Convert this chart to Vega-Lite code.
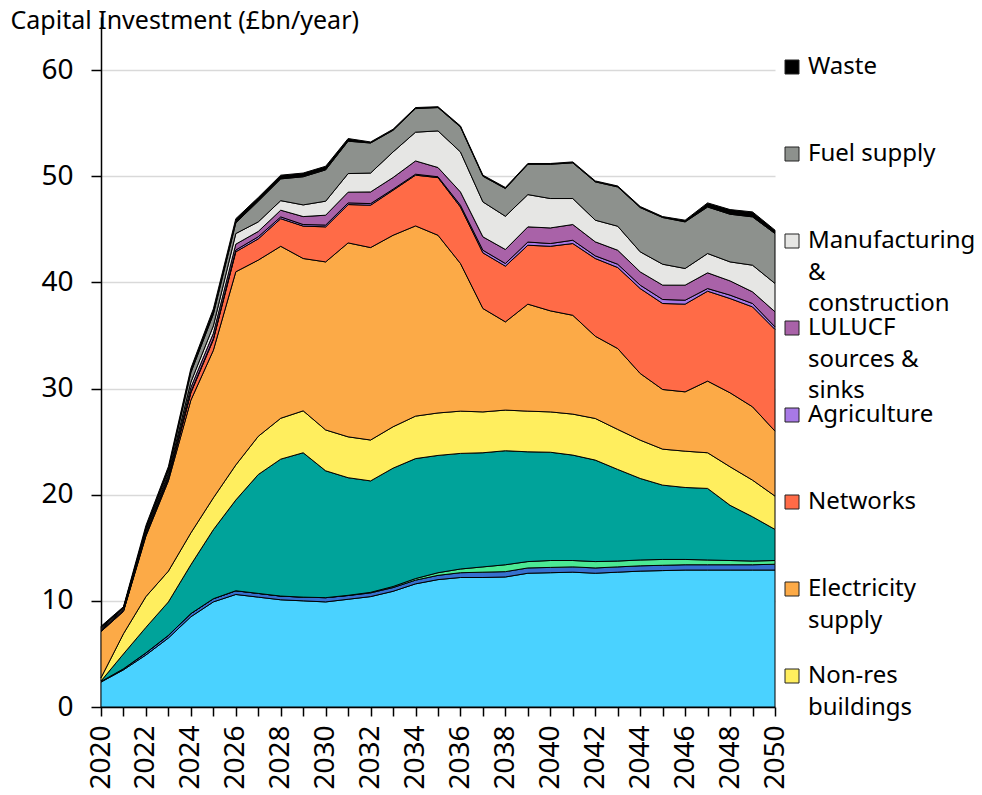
{
  "$schema": "https://vega.github.io/schema/vega-lite/v6.json",
  "autosize": {"type": "none"},
  "padding": {"left": 101, "top": 17, "right": 207, "bottom": 88},
  "width": 674,
  "height": 690,
  "background": "white",
  "config": {
    "font": "Noto Sans",
    "view": {"stroke": null}
  },
  "datasets": {
    "sectorOrder": [
      {"sector": "Surface transport", "rank": 1},
      {"sector": "Shipping", "rank": 2},
      {"sector": "Removals", "rank": 3},
      {"sector": "Residential buildings", "rank": 4},
      {"sector": "Non-res buildings", "rank": 5},
      {"sector": "Electricity supply", "rank": 6},
      {"sector": "Networks", "rank": 7},
      {"sector": "Agriculture", "rank": 8},
      {"sector": "LULUCF sources & sinks", "rank": 9},
      {"sector": "Manufacturing & construction", "rank": 10},
      {"sector": "Fuel supply", "rank": 11},
      {"sector": "Waste", "rank": 12}
    ]
  },
  "data": {
    "values": [
      {"year": 2020, "Surface transport": 2.35, "Shipping": 0.05, "Removals": 0, "Residential buildings": 0.05, "Non-res buildings": 0.3, "Electricity supply": 4.35, "Networks": 0.05, "Agriculture": 0.05, "LULUCF sources & sinks": 0.1, "Manufacturing & construction": 0.1, "Fuel supply": 0.1, "Waste": 0.1},
      {"year": 2021, "Surface transport": 3.5, "Shipping": 0.1, "Removals": 0, "Residential buildings": 1.4, "Non-res buildings": 1.9, "Electricity supply": 2.1, "Networks": 0.05, "Agriculture": 0.05, "LULUCF sources & sinks": 0.1, "Manufacturing & construction": 0.1, "Fuel supply": 0.05, "Waste": 0.1},
      {"year": 2022, "Surface transport": 4.9, "Shipping": 0.2, "Removals": 0, "Residential buildings": 2.4, "Non-res buildings": 2.9, "Electricity supply": 5.7, "Networks": 0.15, "Agriculture": 0.05, "LULUCF sources & sinks": 0.15, "Manufacturing & construction": 0.15, "Fuel supply": 0.2, "Waste": 0.3},
      {"year": 2023, "Surface transport": 6.5, "Shipping": 0.25, "Removals": 0, "Residential buildings": 3.15, "Non-res buildings": 2.9, "Electricity supply": 8.5, "Networks": 0.2, "Agriculture": 0.1, "LULUCF sources & sinks": 0.2, "Manufacturing & construction": 0.2, "Fuel supply": 0.3, "Waste": 0.35},
      {"year": 2024, "Surface transport": 8.5, "Shipping": 0.3, "Removals": 0, "Residential buildings": 4.6, "Non-res buildings": 3.0, "Electricity supply": 12.5, "Networks": 0.7, "Agriculture": 0.1, "LULUCF sources & sinks": 0.4, "Manufacturing & construction": 0.5, "Fuel supply": 0.9, "Waste": 0.4},
      {"year": 2025, "Surface transport": 9.9, "Shipping": 0.3, "Removals": 0, "Residential buildings": 6.5, "Non-res buildings": 3.0, "Electricity supply": 13.9, "Networks": 1.0, "Agriculture": 0.1, "LULUCF sources & sinks": 0.5, "Manufacturing & construction": 0.7, "Fuel supply": 1.1, "Waste": 0.5},
      {"year": 2026, "Surface transport": 10.6, "Shipping": 0.35, "Removals": 0, "Residential buildings": 8.55, "Non-res buildings": 3.3, "Electricity supply": 18.2, "Networks": 1.88, "Agriculture": 0.17, "LULUCF sources & sinks": 0.55, "Manufacturing & construction": 1.0, "Fuel supply": 1.0, "Waste": 0.4},
      {"year": 2027, "Surface transport": 10.35, "Shipping": 0.35, "Removals": 0, "Residential buildings": 11.2, "Non-res buildings": 3.6, "Electricity supply": 16.6, "Networks": 2.0, "Agriculture": 0.2, "LULUCF sources & sinks": 0.5, "Manufacturing & construction": 0.9, "Fuel supply": 1.95, "Waste": 0.35},
      {"year": 2028, "Surface transport": 10.1, "Shipping": 0.35, "Removals": 0, "Residential buildings": 12.9, "Non-res buildings": 3.85, "Electricity supply": 16.2, "Networks": 2.6, "Agriculture": 0.17, "LULUCF sources & sinks": 0.63, "Manufacturing & construction": 0.9, "Fuel supply": 2.05, "Waste": 0.35},
      {"year": 2029, "Surface transport": 10.0, "Shipping": 0.35, "Removals": 0, "Residential buildings": 13.6, "Non-res buildings": 3.95, "Electricity supply": 14.35, "Networks": 3.05, "Agriculture": 0.15, "LULUCF sources & sinks": 0.75, "Manufacturing & construction": 1.1, "Fuel supply": 2.65, "Waste": 0.35},
      {"year": 2030, "Surface transport": 9.9, "Shipping": 0.4, "Removals": 0, "Residential buildings": 11.95, "Non-res buildings": 3.85, "Electricity supply": 15.83, "Networks": 3.3, "Agriculture": 0.17, "LULUCF sources & sinks": 0.93, "Manufacturing & construction": 1.32, "Fuel supply": 2.95, "Waste": 0.34},
      {"year": 2031, "Surface transport": 10.15, "Shipping": 0.35, "Removals": 0.02, "Residential buildings": 11.08, "Non-res buildings": 3.85, "Electricity supply": 18.27, "Networks": 3.61, "Agriculture": 0.16, "LULUCF sources & sinks": 1.01, "Manufacturing & construction": 1.75, "Fuel supply": 3.05, "Waste": 0.25},
      {"year": 2032, "Surface transport": 10.4, "Shipping": 0.35, "Removals": 0.05, "Residential buildings": 10.5, "Non-res buildings": 3.85, "Electricity supply": 18.13, "Networks": 3.99, "Agriculture": 0.15, "LULUCF sources & sinks": 1.1, "Manufacturing & construction": 1.78, "Fuel supply": 2.83, "Waste": 0.1},
      {"year": 2033, "Surface transport": 10.9, "Shipping": 0.35, "Removals": 0.1, "Residential buildings": 11.15, "Non-res buildings": 3.9, "Electricity supply": 18.04, "Networks": 4.24, "Agriculture": 0.1, "LULUCF sources & sinks": 1.1, "Manufacturing & construction": 2.41, "Fuel supply": 2.04, "Waste": 0.1},
      {"year": 2034, "Surface transport": 11.6, "Shipping": 0.35, "Removals": 0.15, "Residential buildings": 11.3, "Non-res buildings": 4.0, "Electricity supply": 17.92, "Networks": 4.78, "Agriculture": 0.09, "LULUCF sources & sinks": 1.25, "Manufacturing & construction": 2.71, "Fuel supply": 2.22, "Waste": 0.1},
      {"year": 2035, "Surface transport": 12.0, "Shipping": 0.4, "Removals": 0.25, "Residential buildings": 11.05, "Non-res buildings": 4.0, "Electricity supply": 16.74, "Networks": 5.43, "Agriculture": 0.08, "LULUCF sources & sinks": 0.87, "Manufacturing & construction": 3.45, "Fuel supply": 2.2, "Waste": 0.08},
      {"year": 2036, "Surface transport": 12.2, "Shipping": 0.45, "Removals": 0.35, "Residential buildings": 10.89, "Non-res buildings": 3.98, "Electricity supply": 13.91, "Networks": 5.32, "Agriculture": 0.17, "LULUCF sources & sinks": 1.25, "Manufacturing & construction": 3.77, "Fuel supply": 2.35, "Waste": 0.1},
      {"year": 2037, "Surface transport": 12.2, "Shipping": 0.5, "Removals": 0.5, "Residential buildings": 10.75, "Non-res buildings": 3.85, "Electricity supply": 9.74, "Networks": 5.24, "Agriculture": 0.25, "LULUCF sources & sinks": 1.26, "Manufacturing & construction": 3.29, "Fuel supply": 2.42, "Waste": 0.1},
      {"year": 2038, "Surface transport": 12.25, "Shipping": 0.5, "Removals": 0.65, "Residential buildings": 10.74, "Non-res buildings": 3.83, "Electricity supply": 8.31, "Networks": 5.25, "Agriculture": 0.25, "LULUCF sources & sinks": 1.32, "Manufacturing & construction": 3.13, "Fuel supply": 2.61, "Waste": 0.1},
      {"year": 2039, "Surface transport": 12.6, "Shipping": 0.5, "Removals": 0.6, "Residential buildings": 10.34, "Non-res buildings": 3.83, "Electricity supply": 10.08, "Networks": 5.55, "Agriculture": 0.3, "LULUCF sources & sinks": 1.43, "Manufacturing & construction": 3.04, "Fuel supply": 2.86, "Waste": 0.07},
      {"year": 2040, "Surface transport": 12.65, "Shipping": 0.5, "Removals": 0.65, "Residential buildings": 10.2, "Non-res buildings": 3.8, "Electricity supply": 9.52, "Networks": 6.08, "Agriculture": 0.26, "LULUCF sources & sinks": 1.47, "Manufacturing & construction": 2.77, "Fuel supply": 3.23, "Waste": 0.07},
      {"year": 2041, "Surface transport": 12.7, "Shipping": 0.5, "Removals": 0.6, "Residential buildings": 9.93, "Non-res buildings": 3.86, "Electricity supply": 9.31, "Networks": 6.76, "Agriculture": 0.31, "LULUCF sources & sinks": 1.48, "Manufacturing & construction": 2.45, "Fuel supply": 3.36, "Waste": 0.09},
      {"year": 2042, "Surface transport": 12.6, "Shipping": 0.5, "Removals": 0.6, "Residential buildings": 9.56, "Non-res buildings": 3.92, "Electricity supply": 7.75, "Networks": 7.32, "Agriculture": 0.25, "LULUCF sources & sinks": 1.32, "Manufacturing & construction": 2.04, "Fuel supply": 3.61, "Waste": 0.09},
      {"year": 2043, "Surface transport": 12.7, "Shipping": 0.5, "Removals": 0.55, "Residential buildings": 8.63, "Non-res buildings": 3.77, "Electricity supply": 7.62, "Networks": 7.63, "Agriculture": 0.31, "LULUCF sources & sinks": 1.32, "Manufacturing & construction": 2.26, "Fuel supply": 3.7, "Waste": 0.09},
      {"year": 2044, "Surface transport": 12.8, "Shipping": 0.5, "Removals": 0.55, "Residential buildings": 7.68, "Non-res buildings": 3.61, "Electricity supply": 6.28, "Networks": 8.0, "Agriculture": 0.32, "LULUCF sources & sinks": 1.25, "Manufacturing & construction": 1.89, "Fuel supply": 4.17, "Waste": 0.1},
      {"year": 2045, "Surface transport": 12.85, "Shipping": 0.5, "Removals": 0.55, "Residential buildings": 7.0, "Non-res buildings": 3.39, "Electricity supply": 5.62, "Networks": 8.1, "Agriculture": 0.38, "LULUCF sources & sinks": 1.35, "Manufacturing & construction": 1.97, "Fuel supply": 4.4, "Waste": 0.09},
      {"year": 2046, "Surface transport": 12.9, "Shipping": 0.5, "Removals": 0.5, "Residential buildings": 6.78, "Non-res buildings": 3.42, "Electricity supply": 5.59, "Networks": 8.26, "Agriculture": 0.37, "LULUCF sources & sinks": 1.42, "Manufacturing & construction": 1.57, "Fuel supply": 4.39, "Waste": 0.16},
      {"year": 2047, "Surface transport": 12.9, "Shipping": 0.5, "Removals": 0.45, "Residential buildings": 6.74, "Non-res buildings": 3.36, "Electricity supply": 6.75, "Networks": 8.47, "Agriculture": 0.25, "LULUCF sources & sinks": 1.48, "Manufacturing & construction": 1.82, "Fuel supply": 4.38, "Waste": 0.39},
      {"year": 2048, "Surface transport": 12.9, "Shipping": 0.5, "Removals": 0.4, "Residential buildings": 5.2, "Non-res buildings": 3.63, "Electricity supply": 6.97, "Networks": 8.88, "Agriculture": 0.32, "LULUCF sources & sinks": 1.34, "Manufacturing & construction": 1.79, "Fuel supply": 4.49, "Waste": 0.44},
      {"year": 2049, "Surface transport": 12.9, "Shipping": 0.5, "Removals": 0.35, "Residential buildings": 4.17, "Non-res buildings": 3.45, "Electricity supply": 6.91, "Networks": 9.41, "Agriculture": 0.32, "LULUCF sources & sinks": 1.1, "Manufacturing & construction": 2.51, "Fuel supply": 4.55, "Waste": 0.47},
      {"year": 2050, "Surface transport": 12.9, "Shipping": 0.55, "Removals": 0.35, "Residential buildings": 2.93, "Non-res buildings": 3.14, "Electricity supply": 6.12, "Networks": 9.58, "Agriculture": 0.24, "LULUCF sources & sinks": 1.42, "Manufacturing & construction": 2.67, "Fuel supply": 4.7, "Waste": 0.32}
    ]
  },
  "transform": [
    {"fold": ["Surface transport", "Shipping", "Removals", "Residential buildings", "Non-res buildings", "Electricity supply", "Networks", "Agriculture", "LULUCF sources & sinks", "Manufacturing & construction", "Fuel supply", "Waste"], "as": ["sector", "value"]},
    {"lookup": "sector", "from": {"data": {"name": "sectorOrder"}, "key": "sector", "fields": ["rank"]}}
  ],
  "mark": {"type": "area", "stroke": "black", "strokeWidth": 1, "opacity": 1, "fillOpacity": 1, "interpolate": "linear"},
  "encoding": {
    "x": {
      "field": "year",
      "type": "quantitative",
      "scale": {"domain": [2020, 2050], "nice": false, "zero": false},
      "axis": {
        "title": null,
        "values": [2020, 2021, 2022, 2023, 2024, 2025, 2026, 2027, 2028, 2029, 2030, 2031, 2032, 2033, 2034, 2035, 2036, 2037, 2038, 2039, 2040, 2041, 2042, 2043, 2044, 2045, 2046, 2047, 2048, 2049, 2050],
        "format": "d",
        "labelExpr": "datum.value % 2 == 0 ? datum.label : ''",
        "labelAngle": -90,
        "labelFontSize": 28,
        "labelColor": "black",
        "labelPadding": 9,
        "labelOverlap": false,
        "labelFlush": false,
        "grid": false,
        "tickSize": 9,
        "tickWidth": 1.5,
        "tickColor": "black",
        "domainColor": "black",
        "domainWidth": 1.5
      }
    },
    "y": {
      "field": "value",
      "type": "quantitative",
      "stack": "zero",
      "scale": {"domain": [0, 65], "nice": false},
      "axis": {
        "values": [0, 10, 20, 30, 40, 50, 60],
        "grid": true,
        "gridColor": "#d9d9d9",
        "gridWidth": 1.5,
        "domainColor": "black",
        "domainWidth": 1.5,
        "tickColor": "black",
        "tickSize": 10,
        "tickWidth": 1.5,
        "labelFontSize": 28,
        "labelColor": "black",
        "labelPadding": 18,
        "title": "Capital Investment (£bn/year)",
        "titleAngle": 0,
        "titleAlign": "left",
        "titleBaseline": "alphabetic",
        "titleX": -91,
        "titleY": 11,
        "titleFontSize": 25,
        "titleFontWeight": "normal",
        "titleColor": "black"
      }
    },
    "order": {"field": "rank", "type": "quantitative", "sort": "ascending"},
    "color": {
      "field": "sector",
      "type": "nominal",
      "scale": {
        "domain": ["Surface transport", "Shipping", "Removals", "Residential buildings", "Non-res buildings", "Electricity supply", "Networks", "Agriculture", "LULUCF sources & sinks", "Manufacturing & construction", "Fuel supply", "Waste"],
        "range": ["#4AD2FF", "#3670CF", "#4CE994", "#00A39A", "#FFEE5E", "#FCAA47", "#FF6B47", "#A879E6", "#A962A8", "#E6E6E4", "#8D918D", "#000000"]
      },
      "legend": {
        "values": ["Waste", "Fuel supply", "Manufacturing & construction", "LULUCF sources & sinks", "Agriculture", "Networks", "Electricity supply", "Non-res buildings"],
        "title": null,
        "orient": "right",
        "offset": -35,
        "padding": 38,
        "symbolType": "square",
        "symbolSize": 196,
        "symbolStrokeColor": "#222222",
        "symbolStrokeWidth": 1,
        "symbolOpacity": 1,
        "labelFontSize": 24,
        "labelColor": "black",
        "labelOffset": 4,
        "labelLimit": 400,
        "rowPadding": 0,
        "gridAlign": "all",
        "labelExpr": "datum.label == 'Manufacturing & construction' ? ['Manufacturing', '&', 'construction'] : datum.label == 'LULUCF sources & sinks' ? ['LULUCF', 'sources &', 'sinks'] : datum.label == 'Electricity supply' ? ['Electricity', 'supply', ''] : datum.label == 'Non-res buildings' ? ['Non-res', 'buildings', ''] : [datum.label, '', '']",
        "encode": {"labels": {"update": {"lineHeight": {"value": 31.5}}}}
      }
    }
  }
}
